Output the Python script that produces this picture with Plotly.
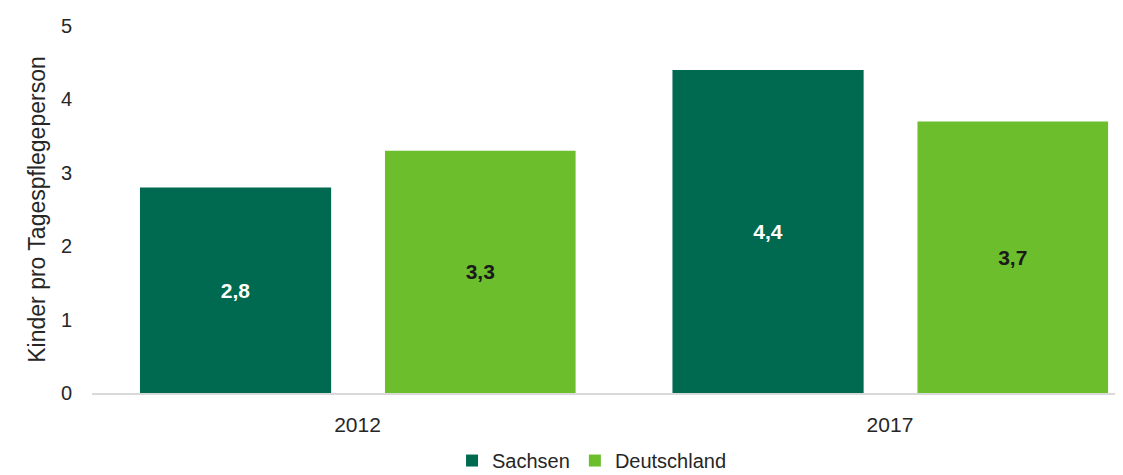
import plotly.graph_objects as go

years = ["2012", "2017"]
sachsen = [2.8, 4.4]
deutschland = [3.3, 3.7]
series_names = ["Sachsen", "Deutschland"]
y_title = "Kinder pro Tagespflegeperson"
y_ticks = [0, 1, 2, 3, 4, 5]

FONT = "Liberation Sans, Arial, sans-serif"

fig = go.Figure()
fig.add_trace(go.Bar(
    x=years, y=sachsen, name=series_names[0],
    marker=dict(color="#006a50", line=dict(width=0)),
    offset=-0.4085, width=0.359,
    texttemplate="<b>%{y:.1f}</b>", textposition="inside", insidetextanchor="middle",
    textfont=dict(color="white", size=21, family=FONT),
))
fig.add_trace(go.Bar(
    x=years, y=deutschland, name=series_names[1],
    marker=dict(color="#6cbe2d", line=dict(width=0)),
    offset=0.0516, width=0.358,
    texttemplate="<b>%{y:.1f}</b>", textposition="inside", insidetextanchor="middle",
    textfont=dict(color="#1a1a1a", size=21, family=FONT),
))

# page body has an 8px default margin, so the figure is sized to fit inside the window
fig.update_layout(
    width=1115, height=467,
    margin=dict(l=84, r=0, t=18, b=82, autoexpand=False),
    plot_bgcolor="white", paper_bgcolor="white",
    barmode="overlay",
    separators=",.",
    font=dict(family=FONT, size=20, color="#262626"),
    uniformtext=dict(minsize=10, mode="show"),
    showlegend=True,
    legend=dict(orientation="h", x=0.485, xanchor="center", y=-0.184, yanchor="middle",
                font=dict(size=20, color="#262626"), itemwidth=30, traceorder="normal"),
)
fig.update_xaxes(
    type="category", range=[-0.4986, 1.4376], automargin=False,
    showline=True, linecolor="#d9d9d9", linewidth=1.5,
    ticks="", showgrid=False, tickfont=dict(size=21), ticklabelstandoff=12,
)
fig.update_yaxes(
    range=[0, 5], tickvals=y_ticks, showgrid=False, zeroline=False, automargin=False,
    showline=False, ticks="", tickfont=dict(size=20), ticklabelstandoff=19,
    title=dict(text=y_title, font=dict(size=23), standoff=8),
)

fig.write_html("out.html")
